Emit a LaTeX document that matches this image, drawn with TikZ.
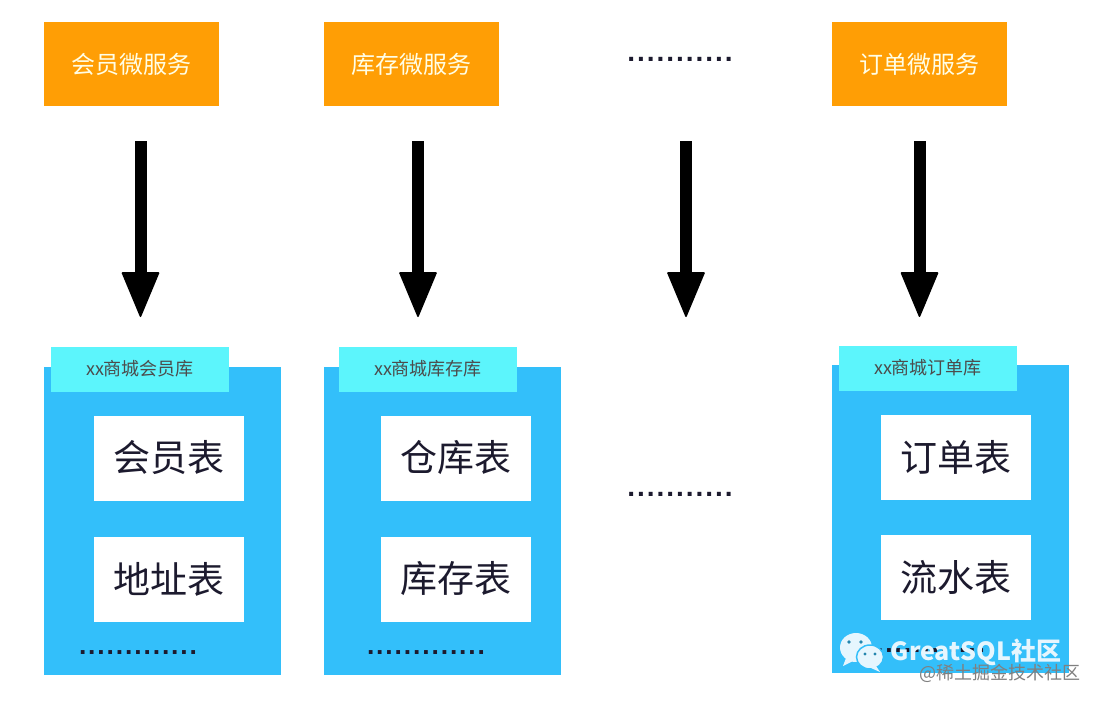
\documentclass[tikz,border=0pt]{standalone}
\usepackage{fontspec}
\setmainfont{Noto Sans CJK SC}
\newfontfamily\dotfont[LetterSpace=7]{Liberation Sans}
\usetikzlibrary{positioning,arrows.meta}
\definecolor{svcorange}{HTML}{FF9E05}
\definecolor{dbblue}{HTML}{33BFFA}
\definecolor{tabcyan}{HTML}{5CF5FC}
\definecolor{wmwhite}{HTML}{E6F6FE}
\definecolor{inkdark}{HTML}{1C1A2E}
\tikzset{
    svcbox/.style={fill=svcorange,minimum width=175pt,minimum height=84pt,inner sep=0pt,text=white!90!yellow,font=\fontsize{24}{24}\selectfont},
    dbbox/.style={fill=dbblue,minimum width=237pt,minimum height=308pt,inner sep=0pt},
    dbtab/.style={fill=tabcyan,minimum width=178pt,minimum height=45pt,inner sep=0pt,text=black!70,font=\fontsize{18}{18}\selectfont},
    tablebox/.style={fill=white,minimum width=150pt,minimum height=85pt,inner sep=0pt,text=inkdark,font=\fontsize{37}{37}\selectfont},
    dotrow/.style={inner sep=0pt,anchor=base,text=inkdark,font=\dotfont\bfseries\fontsize{28}{28}\selectfont},
    smalldots/.style={dotrow,font=\dotfont\bfseries\fontsize{26.5}{26.5}\selectfont},
    bigarrow/.style={line width=12pt,-{Triangle[length=46pt,width=38pt,line width=1.5pt,round]}}
}
\begin{document}
\begin{tikzpicture}[x=1pt,y=-1pt]
    \useasboundingbox (0,0) rectangle (1100,704);

    % service row
    \node[svcbox] (svc1) at (131.5,64) {会员微服务};
    \node[svcbox] (svc2) at (411.5,64) {库存微服务};
    \node[dotrow] (svcdots) at (680,61.5) {...........};
    \node[svcbox] (svc3) at (919.5,64) {订单微服务};

    % arrows
    \draw[bigarrow] (140.5,141) coordinate (a1) -- (140.5,317) coordinate (b1);
    \draw[bigarrow] (418,141) coordinate (a2) -- (418,317) coordinate (b2);
    \draw[bigarrow] (686,141) coordinate (a3) -- (686,317) coordinate (b3);
    \draw[bigarrow] (919.5,141) coordinate (a4) -- (919.5,317) coordinate (b4);

    % databases
    \node[dbbox] (db1) at (162.5,520.5) {};
    \node[dbtab] (tab1) at (140,369) {xx商城会员库};
    \node[tablebox] (t11) at (168.5,458) {会员表};
    \node[tablebox] (t12) at (168.5,579) {地址表};
    \node[smalldots] (dots1) at (138,654.5) {.............};

    \node[dbbox] (db2) at (442.5,520.5) {};
    \node[dbtab] (tab2) at (428,369) {xx商城库存库};
    \node[tablebox] (t21) at (456,458) {仓库表};
    \node[tablebox] (t22) at (456,579) {库存表};
    \node[smalldots] (dots2) at (426,654.5) {.............};

    \node[dotrow] (middots) at (680,496.5) {...........};

    \node[dbbox] (db3) at (950.5,518.5) {};
    \node[dbtab] (tab3) at (928,368) {xx商城订单库};
    \node[tablebox] (t31) at (956,457) {订单表};
    \node[tablebox] (t32) at (956,577) {流水表};
    \node[smalldots] (dots3) at (926,652.5) {.............};

    % watermark
    \fill[wmwhite] (856,647.5) ellipse (16pt and 14.5pt);
    \fill[wmwhite] (846,658) -- (843,666) -- (853,661) -- cycle;
    \draw[dbblue,line width=1.5pt,fill=wmwhite] (870,657) ellipse (13.5pt and 12pt);
    \fill[wmwhite] (876,666) -- (880,672) -- (871,668) -- cycle;
    \fill[dbblue!70!black] (849,642) circle (1.8pt) (861,642) circle (1.8pt);
    \fill[dbblue!70!black] (865,654) circle (1.6pt) (875,654) circle (1.6pt);
    \node[text=wmwhite,inner sep=0pt,font=\bfseries\fontsize{25}{25}\selectfont] (wmark1) at (976,652) {GreatSQL社区};
    \node[text=black!50,inner sep=0pt,font=\fontsize{18}{18}\selectfont] (wmark2) at (1000,673) {@稀土掘金技术社区};
\end{tikzpicture}
\end{document}
